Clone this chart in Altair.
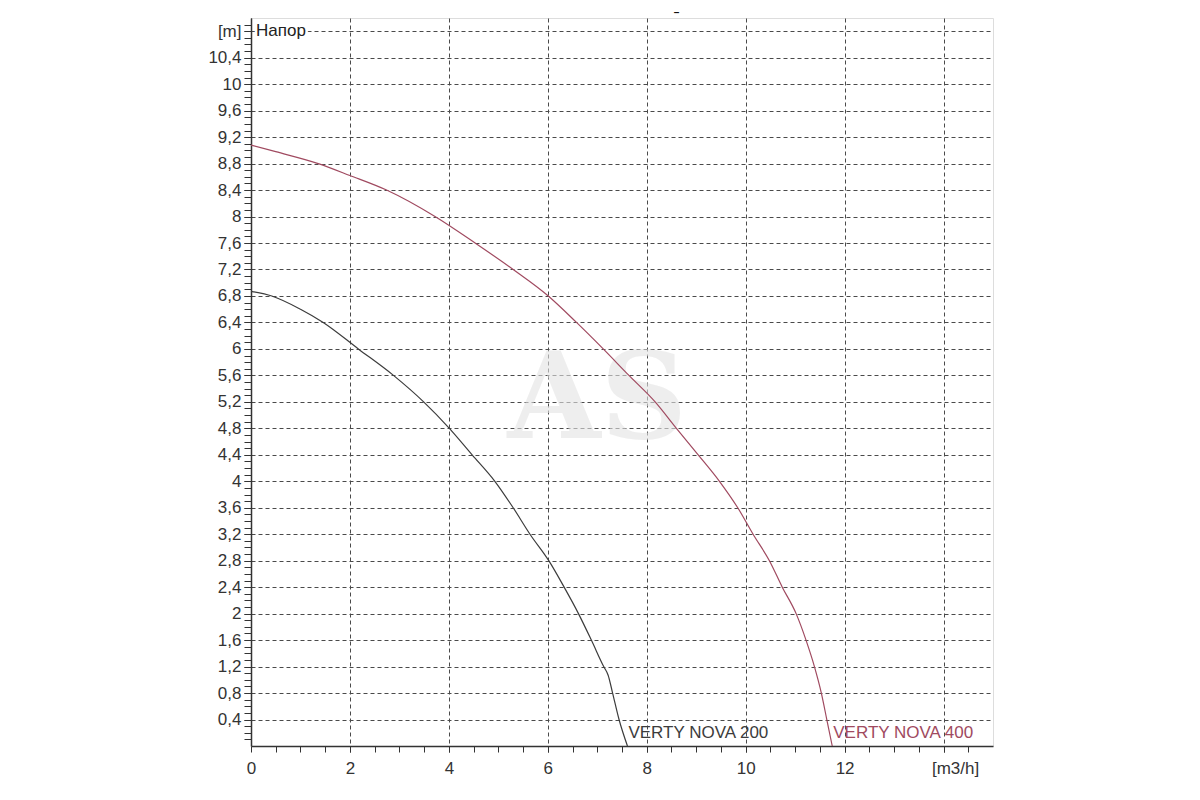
import altair as alt
import pandas as pd

# pump curves: flow [m3/h] vs head [m]
flow_200 = [0, 0.42, 1.0, 1.46, 2.17, 2.88, 3.49, 4.01, 4.47, 4.93, 5.30, 5.64,
            6.02, 6.33, 6.62, 6.88, 7.13, 7.22, 7.31, 7.44, 7.61]
head_200 = [6.87, 6.8, 6.6, 6.4, 6.0, 5.6, 5.2, 4.8, 4.4, 4.0, 3.6, 3.2,
            2.8, 2.4, 2.0, 1.6, 1.2, 1.07, 0.8, 0.4, 0.0]

flow_400 = [0, 0.5, 1.36, 2.0, 2.74, 3.72, 4.53, 5.30, 6.01, 6.58, 7.12, 7.64,
            8.17, 8.60, 9.04, 9.47, 9.84, 10.15, 10.48, 10.74, 11.02, 11.22,
            11.39, 11.53, 11.64, 11.75]
head_400 = [9.08, 8.98, 8.8, 8.62, 8.4, 8.0, 7.6, 7.2, 6.8, 6.4, 6.0, 5.6,
            5.2, 4.8, 4.4, 4.0, 3.6, 3.2, 2.8, 2.4, 2.0, 1.6,
            1.2, 0.8, 0.4, 0.0]

series = ["VERTY NOVA 200", "VERTY NOVA 400"]
line_colors = ["#3c3c3c", "#a04a60"]
label_colors = ["#7d7d7d", "#a55a70"]

x_major = [0, 2, 4, 6, 8, 10, 12, 14]
x_minor = [i * 0.5 for i in range(1, 30)]
y_major = [round(0.4 * i, 1) for i in range(1, 28)]
y_minor = [round(0.1 * i, 1) for i in range(1, 110)]

curves = pd.concat([
    pd.DataFrame({"q": flow_200, "h": head_200, "pump": series[0]}),
    pd.DataFrame({"q": flow_400, "h": head_400, "pump": series[1]}),
])
labels = pd.DataFrame({"q": [flow_200[-1], flow_400[-1]], "h": [0.2, 0.2],
                       "pump": series})

font = "Liberation Sans"
xs = alt.Scale(domain=[0, 15], nice=False, zero=False)
ys = alt.Scale(domain=[0, 11], nice=False, zero=False)

x_axis = alt.Axis(
    values=x_major, orient="bottom", title=None, grid=True,
    gridDash=[4, 3], gridColor="#4a4a4a", gridOpacity=1,
    domainColor="#333", domainWidth=1.5, tickColor="#333", tickSize=6,
    labelFont=font, labelFontSize=17, labelColor="#333", labelPadding=8,
    labelFlush=False,
    labelExpr="datum.value == 14 ? '' : datum.label",
)
y_axis = alt.Axis(
    values=y_major, orient="left", title=None, grid=True,
    gridDash=[4, 3], gridColor="#4a4a4a", gridOpacity=1,
    domainColor="#333", domainWidth=1.5, tickColor="#333", tickSize=7,
    labelFont=font, labelFontSize=17, labelColor="#333", labelPadding=3,
    labelFlush=False,
    labelExpr="datum.value > 10.7 ? '[m]' : replace(format(datum.value, '.1~f'), '.', ',')",
)


def px(field):
    return alt.X(field, scale=xs, axis=None)


def py(field):
    return alt.Y(field, scale=ys, axis=None)


lines = alt.Chart(curves).mark_line(strokeWidth=1.2, interpolate="monotone").encode(
    x=alt.X("q:Q", scale=xs, axis=x_axis),
    y=alt.Y("h:Q", scale=ys, axis=y_axis),
    color=alt.Color("pump:N", scale=alt.Scale(domain=series, range=line_colors),
                    legend=None),
    order="q:Q",
)

minor_x = alt.Chart(pd.DataFrame({"q": x_minor})).mark_point(opacity=0).encode(
    x=alt.X("q:Q", scale=xs, axis=alt.Axis(
        values=x_minor, orient="bottom", title=None, grid=False, labels=False,
        domain=False, tickColor="#333", tickSize=6)),
)
minor_y = alt.Chart(pd.DataFrame({"h": y_minor})).mark_point(opacity=0).encode(
    y=alt.Y("h:Q", scale=ys, axis=alt.Axis(
        values=y_minor, orient="left", title=None, grid=False, labels=False,
        domain=False, tickColor="#333", tickSize=7)),
)

names = alt.Chart(labels).mark_text(
    align="left", baseline="middle", font=font, fontSize=17, dx=1
).encode(
    x=px("q:Q"), y=py("h:Q"), text="pump:N",
    color=alt.Color("pump:N", scale=alt.Scale(domain=series, range=label_colors),
                    legend=None),
)

unit_x = alt.Chart(pd.DataFrame({"q": [14], "h": [0], "t": ["[m3/h]"]})).mark_text(
    align="center", baseline="top", font=font, fontSize=17, color="#333",
    dx=12, dy=15
).encode(x=px("q:Q"), y=py("h:Q"), text="t:N")

head_df = pd.DataFrame({"q": [0], "h": [10.8], "t": ["Напор"]})
head_bg = alt.Chart(head_df).mark_text(
    align="left", baseline="middle", font=font, fontSize=17, color="white",
    stroke="white", strokeWidth=5, dx=5
).encode(x=px("q:Q"), y=py("h:Q"), text="t:N")
head_title = alt.Chart(head_df).mark_text(
    align="left", baseline="middle", font=font, fontSize=17, color="#222", dx=5
).encode(x=px("q:Q"), y=py("h:Q"), text="t:N")

dash_title = alt.Chart(pd.DataFrame({"q": [8.6], "h": [11], "t": ["–"]})).mark_text(
    align="center", baseline="middle", font=font, fontSize=10, color="#111",
    fontWeight="bold", dy=-5
).encode(x=px("q:Q"), y=py("h:Q"), text="t:N")

watermark = alt.Chart(pd.DataFrame({"q": [7.0], "h": [5.2], "t": ["AS"]})).mark_text(
    align="center", baseline="middle", font="DejaVu Serif", fontWeight="bold",
    fontSize=120, color="#e4e4e4", opacity=0.6
).encode(x=px("q:Q"), y=py("h:Q"), text="t:N")

chart = alt.layer(
    watermark, minor_x, minor_y, lines, names, unit_x, head_bg, head_title,
    dash_title
).resolve_axis(
    x="independent", y="independent"
).properties(
    width=742, height=728,
    autosize=alt.AutoSizeParams(type="none"),
    padding={"left": 243, "top": 10, "right": 40, "bottom": 40},
).configure_view(stroke="#333", strokeWidth=1.2).configure(background="white")

chart.save("out.html", embed_options={"renderer": "svg", "actions": False})
